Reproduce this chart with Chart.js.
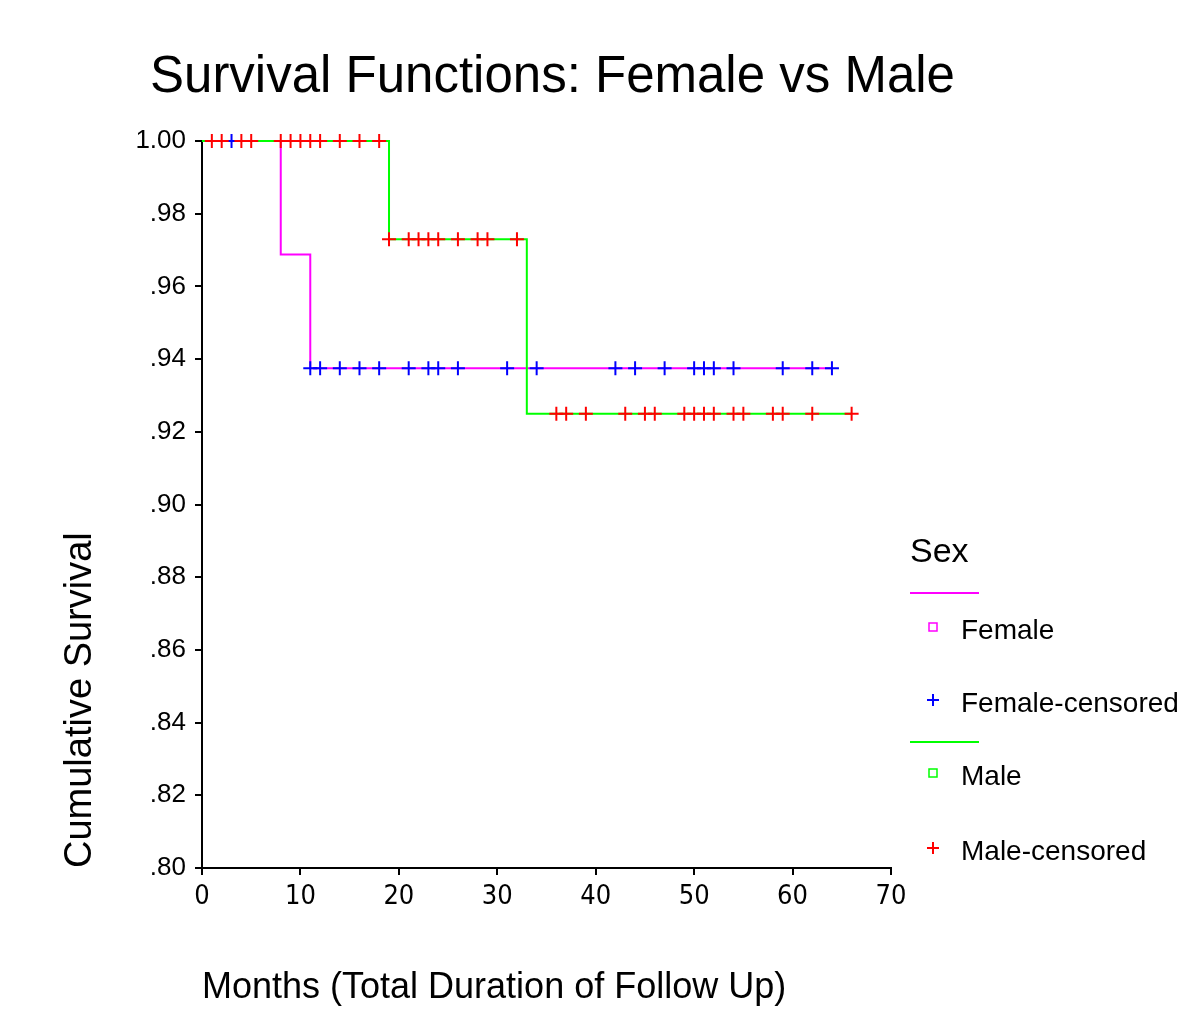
<!DOCTYPE html>
<html>
<head>
<meta charset="utf-8">
<title>Survival Functions: Female vs Male</title>
<script src="https://cdn.jsdelivr.net/npm/chart.js@4.4.1/dist/chart.umd.min.js"></script>
<style>
  html, body { margin: 0; padding: 0; background: #fff; }
  #wrap { width: 1200px; height: 1034px; }
</style>
</head>
<body>
<div id="wrap"><canvas id="survChart" width="1200" height="1034"></canvas></div>
<script>
// Kaplan-Meier steps (months, cumulative survival)
const femaleTimes = [0, 8, 11, 64];
const femaleSurv = [1.00, 0.96875, 0.9375, 0.9375];
const maleTimes = [0, 19, 33, 66];
const maleSurv = [1.00, 0.973, 0.925, 0.925];

// censored cases
const femaleCensTimes = [3, 11, 12, 14, 16, 18, 21, 23, 24, 26, 31, 34, 42, 44, 47, 50, 51, 52, 54, 59, 62, 64];
const femaleCensSurv = [1.00, 0.9375, 0.9375, 0.9375, 0.9375, 0.9375, 0.9375, 0.9375, 0.9375, 0.9375, 0.9375,
  0.9375, 0.9375, 0.9375, 0.9375, 0.9375, 0.9375, 0.9375, 0.9375, 0.9375, 0.9375, 0.9375];
const maleCensTimes = [1, 2, 4, 5, 8, 9, 10, 11, 12, 14, 16, 18,
  19, 21, 22, 23, 24, 26, 28, 29, 32,
  36, 37, 39, 43, 45, 46, 49, 50, 51, 52, 54, 55, 58, 59, 62, 66];
const maleCensSurv = [1.00, 1.00, 1.00, 1.00, 1.00, 1.00, 1.00, 1.00, 1.00, 1.00, 1.00, 1.00,
  0.973, 0.973, 0.973, 0.973, 0.973, 0.973, 0.973, 0.973, 0.973,
  0.925, 0.925, 0.925, 0.925, 0.925, 0.925, 0.925, 0.925, 0.925, 0.925, 0.925, 0.925, 0.925, 0.925, 0.925, 0.925];

const xTicks = [0, 10, 20, 30, 40, 50, 60, 70];
const yTicks = [0.80, 0.82, 0.84, 0.86, 0.88, 0.90, 0.92, 0.94, 0.96, 0.98, 1.00];

const FEMALE = '#ff00ff', FEMALE_C = '#0000ff', MALE = '#00ff00', MALE_C = '#ff0000';
const SANS = '"Liberation Sans", Arial, sans-serif';
const NARROW = '"Liberation Sans Narrow", "DejaVu Sans Condensed", "Liberation Sans", sans-serif';

function pts(xs, ys) {
  return xs.map((x, i) => ({ x: x, y: ys[i] }));
}

// title + "Sex" legend drawn on the right side
const sexLegend = {
  id: 'sexLegend',
  afterDraw(chart) {
    const ctx = chart.ctx;
    ctx.save();
    ctx.fillStyle = '#000';
    ctx.textBaseline = 'alphabetic';
    ctx.textAlign = 'left';
    ctx.font = '51px ' + SANS;
    ctx.fillText('Survival Functions: Female vs Male', 150, 92);

    ctx.font = '34px ' + SANS;
    ctx.fillText('Sex', 910, 562);

    const items = [
      { text: 'Female', color: FEMALE, mark: 'square', line: 593, y: 627 },
      { text: 'Female-censored', color: FEMALE_C, mark: 'cross', y: 700 },
      { text: 'Male', color: MALE, mark: 'square', line: 742, y: 773 },
      { text: 'Male-censored', color: MALE_C, mark: 'cross', y: 848 }
    ];
    ctx.font = '28px ' + SANS;
    ctx.textBaseline = 'middle';
    items.forEach(it => {
      ctx.strokeStyle = it.color;
      ctx.lineWidth = 2;
      if (it.line) {
        ctx.beginPath();
        ctx.moveTo(910, it.line);
        ctx.lineTo(979, it.line);
        ctx.stroke();
      }
      ctx.beginPath();
      if (it.mark === 'square') {
        ctx.lineWidth = 1.5;
        ctx.rect(929, it.y - 4, 8, 8);
      } else {
        ctx.moveTo(933, it.y - 6);
        ctx.lineTo(933, it.y + 6);
        ctx.moveTo(927, it.y);
        ctx.lineTo(939, it.y);
      }
      ctx.stroke();
      ctx.fillStyle = '#000';
      ctx.fillText(it.text, 961, it.y + 4);
    });
    ctx.restore();
  }
};

const ctx = document.getElementById('survChart');

new Chart(ctx, {
  type: 'scatter',
  data: {
    datasets: [
      {
        label: 'Male-censored',
        data: pts(maleCensTimes, maleCensSurv),
        pointStyle: 'cross',
        pointRadius: 7,
        pointBorderWidth: 2,
        borderColor: MALE_C,
        backgroundColor: MALE_C,
        showLine: false,
        clip: false
      },
      {
        label: 'Female-censored',
        data: pts(femaleCensTimes, femaleCensSurv),
        pointStyle: 'cross',
        pointRadius: 7,
        pointBorderWidth: 2,
        borderColor: FEMALE_C,
        backgroundColor: FEMALE_C,
        showLine: false,
        clip: false
      },
      {
        label: 'Male',
        data: pts(maleTimes, maleSurv),
        showLine: true,
        stepped: true,
        borderColor: MALE,
        borderWidth: 2,
        pointRadius: 0,
        clip: false
      },
      {
        label: 'Female',
        data: pts(femaleTimes, femaleSurv),
        showLine: true,
        stepped: true,
        borderColor: FEMALE,
        borderWidth: 2,
        pointRadius: 0,
        clip: false
      }
    ]
  },
  options: {
    responsive: false,
    animation: false,
    devicePixelRatio: 1,
    layout: {
      padding: { top: 141, right: 309, left: 0, bottom: 0 }
    },
    plugins: {
      legend: { display: false },
      tooltip: { enabled: false },
      title: { display: false }
    },
    scales: {
      x: {
        type: 'linear',
        min: 0,
        max: 70,
        afterFit: (scale) => { scale.height = 166; },
        afterBuildTicks: (scale) => { scale.ticks = xTicks.map(v => ({ value: v })); },
        border: { display: true, color: '#000', width: 2 },
        grid: { drawOnChartArea: false, drawTicks: true, tickLength: 7, color: '#000', lineWidth: 2 },
        ticks: {
          color: '#000',
          padding: 6,
          maxRotation: 0,
          font: { family: NARROW, size: 27 }
        },
        title: {
          display: true,
          text: 'Months (Total Duration of Follow Up)',
          align: 'start',
          color: '#000',
          font: { family: SANS, size: 36 },
          padding: { top: 0, bottom: 24 }
        }
      },
      y: {
        type: 'linear',
        min: 0.80,
        max: 1.00,
        afterFit: (scale) => { scale.width = 202; },
        afterBuildTicks: (scale) => { scale.ticks = yTicks.map(v => ({ value: v })); },
        border: { display: true, color: '#000', width: 2 },
        grid: { drawOnChartArea: false, drawTicks: true, tickLength: 7, color: '#000', lineWidth: 2 },
        ticks: {
          color: '#000',
          padding: 9,
          font: { family: SANS, size: 26 },
          callback: (v) => {
            const s = (Math.round(v * 100) / 100).toFixed(2);
            return v >= 1 ? s : s.replace(/^0/, '');
          }
        },
        title: {
          display: true,
          text: 'Cumulative Survival',
          align: 'start',
          color: '#000',
          font: { family: SANS, size: 38 },
          padding: { top: 58, bottom: 0 }
        }
      }
    }
  },
  plugins: [sexLegend]
});
</script>
</body>
</html>
